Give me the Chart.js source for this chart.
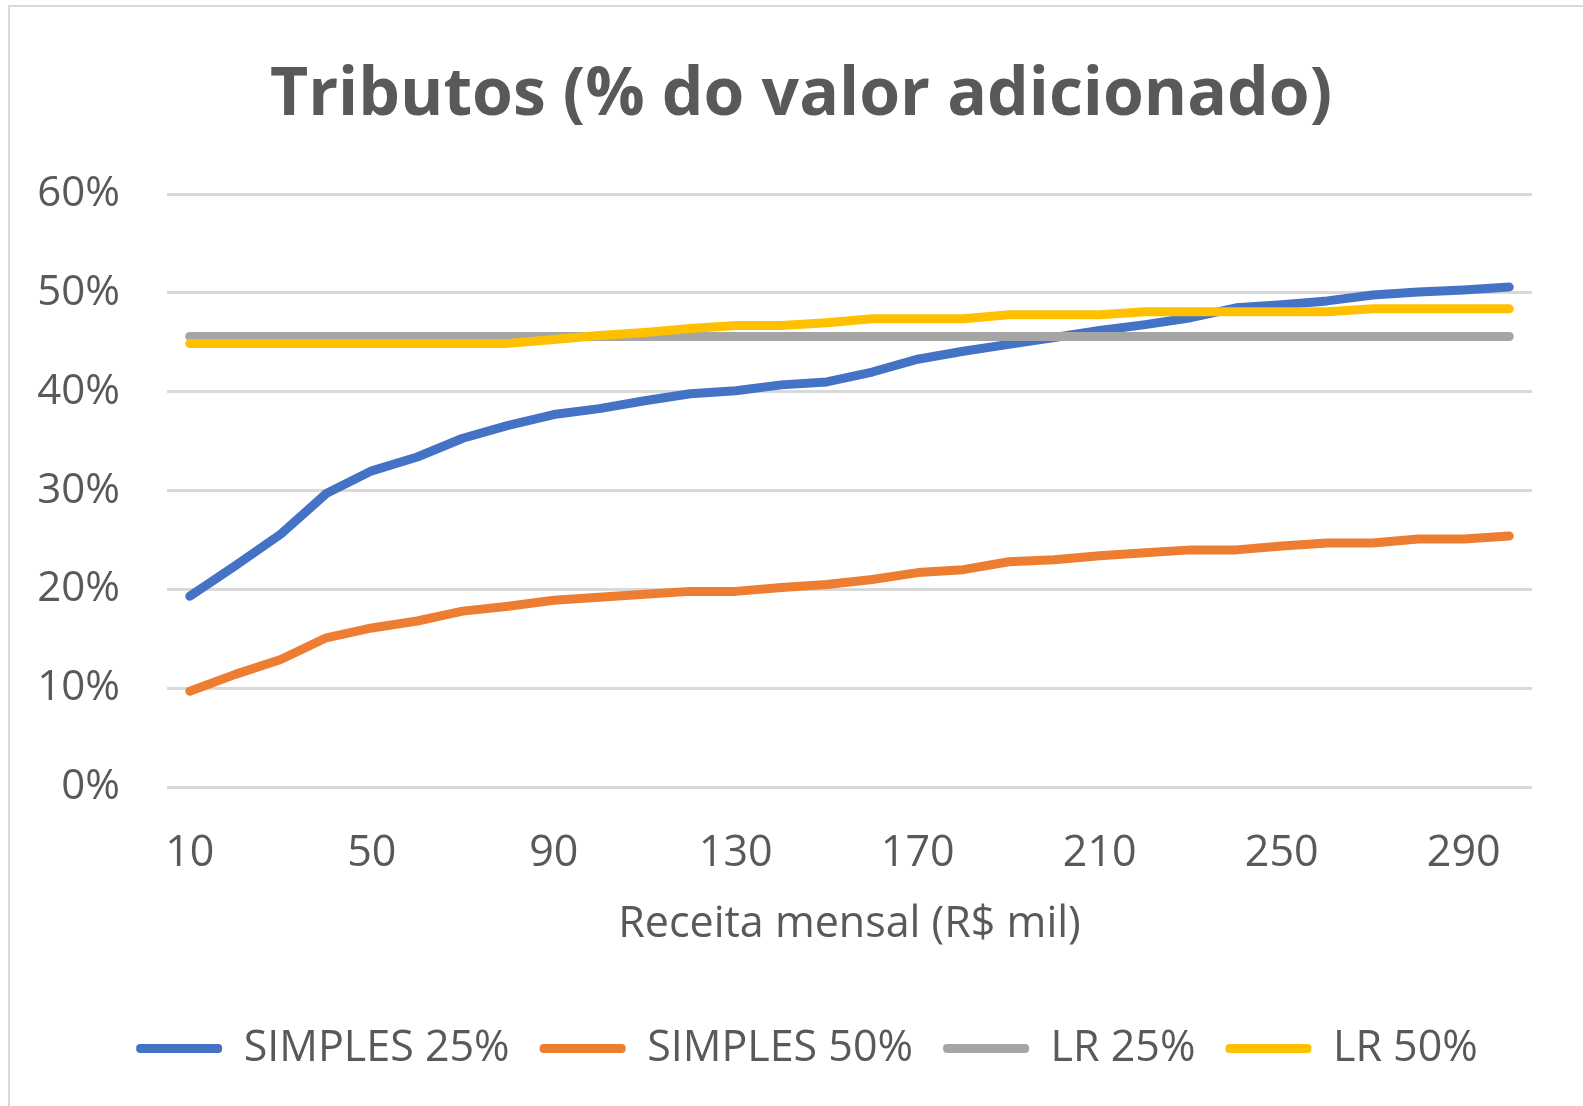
<!DOCTYPE html>
<html>
<head>
<meta charset="utf-8">
<script src="https://cdn.jsdelivr.net/npm/chart.js@4"></script>
<style>
  html, body { margin: 0; padding: 0; background: #fff; }
  #wrap { position: relative; width: 1583px; height: 1106px; }
</style>
</head>
<body>
<div id="wrap"><canvas id="stage" width="1583" height="1106"></canvas></div>
<script>
// receita mensal (R$ mil)
const receita = [10, 20, 30, 40, 50, 60, 70, 80, 90, 100, 110, 120, 130, 140, 150,
  160, 170, 180, 190, 200, 210, 220, 230, 240, 250, 260, 270, 280, 290, 300];

// tributos em % do valor adicionado
const simples25 = [19.3, 22.4, 25.6, 29.7, 32.0, 33.4, 35.3, 36.6, 37.7, 38.3, 39.1, 39.8, 40.1, 40.7, 41.0,
  42.0, 43.3, 44.1, 44.8, 45.5, 46.2, 46.8, 47.5, 48.5, 48.8, 49.2, 49.8, 50.1, 50.3, 50.6];
const simples50 = [9.7, 11.4, 12.9, 15.1, 16.1, 16.8, 17.8, 18.3, 18.9, 19.2, 19.5, 19.8, 19.8, 20.2, 20.5,
  21.0, 21.7, 22.0, 22.8, 23.0, 23.4, 23.7, 24.0, 24.0, 24.4, 24.7, 24.7, 25.1, 25.1, 25.4];
const lr25 = [45.6, 45.6, 45.6, 45.6, 45.6, 45.6, 45.6, 45.6, 45.6, 45.6, 45.6, 45.6, 45.6, 45.6, 45.6,
  45.6, 45.6, 45.6, 45.6, 45.6, 45.6, 45.6, 45.6, 45.6, 45.6, 45.6, 45.6, 45.6, 45.6, 45.6];
const lr50 = [44.9, 44.9, 44.9, 44.9, 44.9, 44.9, 44.9, 44.9, 45.3, 45.7, 46.0, 46.4, 46.7, 46.7, 47.0,
  47.4, 47.4, 47.4, 47.8, 47.8, 47.8, 48.1, 48.1, 48.1, 48.1, 48.1, 48.4, 48.4, 48.4, 48.4];

const seriesNames = ['SIMPLES 25%', 'SIMPLES 50%', 'LR 25%', 'LR 50%'];
const seriesColors = ['#4472C4', '#ED7D31', '#A5A5A5', '#FFC000'];

const txt = '#595959';
const font = 'Open Sans';

const frame = {
  id: 'frame',
  afterLayout(chart) {
    // Excel centres title and legend over the whole frame, not the plot
    const t = chart.titleBlock, l = chart.legend;
    if (t) { t.left += 35; t.right += 35; }
    if (l) { l.left += 41; l.right += 41; }
  },
  beforeDraw(chart) {
    const ctx = chart.ctx;
    ctx.save();
    ctx.fillStyle = '#fff';
    ctx.fillRect(0, 0, chart.width, chart.height);
    ctx.strokeStyle = '#d9d9d9';
    ctx.lineWidth = 2;
    ctx.beginPath();
    ctx.moveTo(9, chart.height);
    ctx.lineTo(9, 6);
    ctx.lineTo(chart.width, 6);
    ctx.stroke();
    ctx.restore();
  }
};

function makeSet(i, data) {
  return {
    label: seriesNames[i],
    data: data,
    borderColor: seriesColors[i],
    backgroundColor: seriesColors[i],
    borderWidth: 9,
    borderCapStyle: 'round',
    borderJoinStyle: 'round',
    pointRadius: 0,
    tension: 0,
    order: 4 - i
  };
}

new Chart(document.getElementById('stage'), {
  type: 'line',
  data: {
    labels: receita,
    datasets: [makeSet(0, simples25), makeSet(1, simples50), makeSet(2, lr25), makeSet(3, lr50)]
  },
  options: {
    responsive: false,
    animation: false,
    devicePixelRatio: 1,
    layout: { padding: { left: 0, right: 51, top: 0, bottom: 26 } },
    plugins: {
      title: {
        display: true,
        text: 'Tributos (% do valor adicionado)',
        color: txt,
        font: { family: font, size: 66, weight: 'bold', lineHeight: 1.2 },
        padding: { top: 57, bottom: 58 }
      },
      legend: {
        position: 'bottom',
        labels: {
          color: txt,
          font: { family: font, size: 43, lineHeight: 1.2 },
          boxWidth: 86,
          boxHeight: 9,
          useBorderRadius: true,
          borderRadius: 4,
          padding: 30,
          sort: (a, b) => a.datasetIndex - b.datasetIndex,
          generateLabels(chart) {
            const items = Chart.defaults.plugins.legend.labels.generateLabels(chart);
            items.forEach(it => { it.lineWidth = 0; it.strokeStyle = 'transparent'; });
            return items;
          }
        }
      },
      tooltip: { enabled: false }
    },
    scales: {
      x: {
        offset: true,
        afterFit(s) { s.height = 210; },
        grid: { display: false, drawTicks: false },
        border: { display: false },
        ticks: {
          autoSkip: false,
          maxRotation: 0,
          padding: 41,
          color: txt,
          font: { family: font, size: 43, lineHeight: 1.2 },
          callback(val, idx) { return idx % 4 === 0 ? this.getLabelForValue(val) : ''; }
        },
        title: {
          display: true,
          text: 'Receita mensal (R$ mil)',
          color: txt,
          font: { family: font, size: 43, lineHeight: 1.2 },
          padding: { top: 18, bottom: 46 }
        }
      },
      y: {
        min: 0,
        max: 60,
        afterFit(s) { s.width = 167; },
        grid: { color: '#d9d9d9', lineWidth: 3, drawTicks: false },
        border: { display: false },
        ticks: {
          stepSize: 10,
          padding: 47,
          color: txt,
          font: { family: font, size: 42, lineHeight: 1.2 },
          callback: v => v + '%'
        }
      }
    }
  },
  plugins: [frame]
});
</script>
</body>
</html>
